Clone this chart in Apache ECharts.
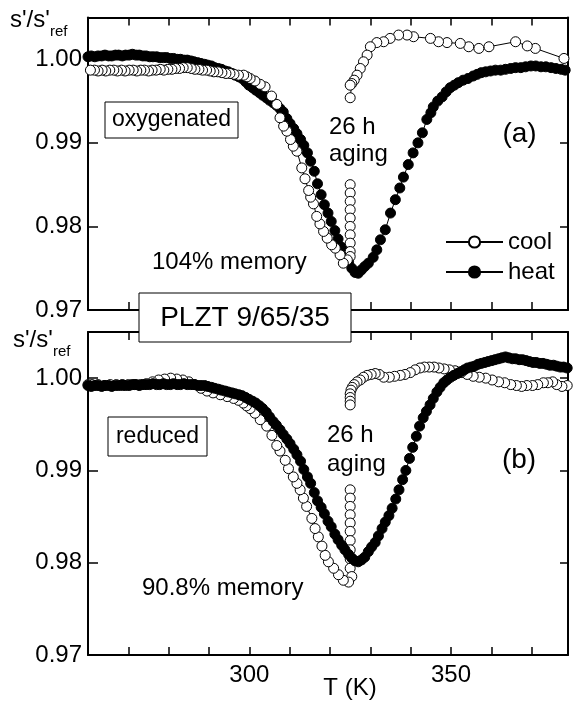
<!DOCTYPE html>
<html>
<head>
<meta charset="utf-8">
<script src="https://cdn.jsdelivr.net/npm/echarts@6/dist/echarts.min.js"></script>
<style>
html,body{margin:0;padding:0;background:#fff;}
#chart{width:573px;height:702px;}
</style>
</head>
<body>
<div id="chart"></div>
<script>
// ---- Data (null marks a gap in the measured sequence) ----
// Panel (a) oxygenated, cooling (measurement order: high T -> low T)
const aCoolT = [378.0,370.9,368.9,366.0,359.4,356.9,354.4,352.3,349.0,346.9,344.9,340.7,339.1,337.0,334.9,333.3,331.6,330.0,329.2,328.3,327.5,326.7,326.0,325.4,325.0,325.0,null,
  325.0,325.0,325.0,325.0,325.0,325.0,325.0,325.0,325.0,325.0,
  324.3,323.3,322.5,321.3,320.4,319.3,318.4,317.5,316.7,315.9,315.2,314.7,313.8,313.0,311.8,310.9,310.2,309.3,308.5,307.6,306.8,305.5,303.9,302.7,301.4,300.2,299.4,298.6,297.3,296.2,295.2,294.2,293.2,292.2,291.2,290.3,289.4,288.4,287.5,286.5,285.6,284.6,283.6,282.7,281.7,280.8,279.8,278.8,277.9,276.9,275.9,275.0,274.0,273.1,272.1,271.2,270.2,269.2,268.3,267.3,266.4,265.4,264.4,263.5,262.5,261.6,260.6];
const aCoolV = [1.0001,1.0013,1.0016,1.0021,1.0015,1.0013,1.0015,1.0019,1.0020,1.0021,1.0025,1.0027,1.0029,1.0029,1.0025,1.0021,1.0020,1.0015,1.0005,0.9997,0.9989,0.9981,0.9975,0.9971,0.9969,0.9954,null,
  0.9850,0.9840,0.9830,0.9820,0.9810,0.9800,0.9790,0.9780,0.9770,0.9764,
  0.9760,0.9756,0.9766,0.9774,0.9778,0.9786,0.9794,0.9803,0.9812,0.9827,0.9835,0.9843,0.9857,0.9870,0.9890,0.9896,0.9904,0.9914,0.9920,0.9930,0.9946,0.9956,0.9967,0.9970,0.9974,0.9977,0.9979,0.9981,0.9981,0.9982,0.9983,0.9983,0.9984,0.9985,0.9985,0.9986,0.9987,0.9987,0.9988,0.9988,0.9989,0.9990,0.9990,0.9989,0.9989,0.9988,0.9988,0.9987,0.9988,0.9987,0.9987,0.9986,0.9987,0.9987,0.9986,0.9987,0.9987,0.9986,0.9987,0.9986,0.9987,0.9987,0.9986,0.9987,0.9986,0.9987,0.9987];
// Panel (a) oxygenated, heating (low T -> high T)
const aHeatT = [260.0,260.8,261.7,262.5,263.4,264.2,265.1,265.9,266.8,267.6,268.5,269.3,270.2,271.0,271.9,272.7,273.6,274.4,275.3,276.1,277.0,277.8,278.7,279.5,280.4,281.2,282.1,282.9,283.8,284.6,285.5,286.3,287.2,288.0,288.9,289.7,290.6,291.4,292.3,293.1,294.0,294.8,295.7,296.5,297.4,298.2,299.1,299.9,300.8,301.6,302.5,303.3,304.2,305.0,305.9,306.7,307.6,308.4,309.3,310.1,311.0,311.8,312.7,313.5,314.4,315.2,316.1,316.9,317.8,318.6,319.5,320.3,321.2,322.0,322.9,323.7,324.6,325.4,326.2,327.0,327.8,328.6,329.5,330.7,331.6,332.5,333.7,335.0,336.2,337.3,338.2,339.4,340.6,341.8,342.9,344.0,345.0,345.6,346.7,347.8,348.8,349.8,350.8,351.8,353.0,354.2,355.5,356.5,357.5,358.6,359.8,361.0,362.3,363.5,364.8,366.0,367.3,368.5,369.8,371.0,372.3,373.5,374.8,376.0,377.3,378.3];
const aHeatV = [1.0003,1.0004,1.0003,1.0004,1.0004,1.0005,1.0004,1.0004,1.0005,1.0005,1.0004,1.0005,1.0005,1.0006,1.0005,1.0005,1.0004,1.0004,1.0003,1.0003,1.0003,1.0002,1.0002,1.0002,1.0001,1.0001,1.0000,1.0000,0.9999,0.9999,0.9998,0.9997,0.9996,0.9995,0.9994,0.9993,0.9992,0.9990,0.9989,0.9988,0.9986,0.9985,0.9983,0.9981,0.9979,0.9977,0.9973,0.9969,0.9966,0.9963,0.9960,0.9957,0.9954,0.9951,0.9948,0.9945,0.9941,0.9937,0.9929,0.9923,0.9917,0.9911,0.9904,0.9897,0.9888,0.9878,0.9866,0.9851,0.9838,0.9826,0.9816,0.9806,0.9795,0.9785,0.9775,0.9766,0.9758,0.9750,0.9745,0.9744,0.9748,0.9752,0.9756,0.9763,0.9772,0.9784,0.9796,0.9816,0.9832,0.9846,0.9859,0.9874,0.9888,0.9900,0.9912,0.9928,0.9936,0.9943,0.9950,0.9955,0.9961,0.9966,0.9969,0.9972,0.9975,0.9977,0.9980,0.9982,0.9984,0.9985,0.9986,0.9987,0.9987,0.9988,0.9989,0.9990,0.9990,0.9991,0.9992,0.9992,0.9991,0.9991,0.9990,0.9989,0.9988,0.9987];
// Panel (b) reduced, cooling (high T -> low T)
const bCoolT = [378.8,377.5,376.2,375.2,374.0,372.9,371.5,370.2,368.8,367.5,366.2,364.8,363.3,361.8,360.2,358.6,357.0,355.5,354.0,352.5,351.0,349.6,348.3,347.0,345.8,344.6,343.4,342.3,341.1,339.9,338.6,337.4,336.0,334.7,333.3,332.2,331.2,330.2,329.2,328.3,327.5,326.7,326.0,325.5,325.2,325.0,325.0,325.0,325.0,null,
  325.0,325.0,325.0,325.0,325.0,325.0,325.0,325.0,325.0,325.0,325.4,
  324.6,323.3,322.1,320.9,319.6,318.8,318.0,317.1,316.3,315.5,314.2,313.4,312.6,311.8,310.9,309.7,308.9,307.6,306.8,305.6,304.3,302.7,301.4,300.2,299.3,298.5,297.3,296.1,294.5,292.8,291.0,289.5,288.0,286.5,285.0,283.5,282.0,280.5,279.0,277.5,276.0,274.5,273.0,271.5,270.0,268.5,267.0,265.5,264.0,262.5,261.0,260.0];
const bCoolV = [0.9992,0.9991,0.9993,0.9996,0.9995,0.9995,0.9993,0.9992,0.9992,0.9991,0.9992,0.9993,0.9995,0.9996,0.9998,1.0000,1.0001,1.0002,1.0004,1.0006,1.0008,1.0009,1.0010,1.0011,1.0012,1.0012,1.0012,1.0011,1.0009,1.0006,1.0004,1.0003,1.0002,1.0001,1.0001,1.0004,1.0005,1.0004,1.0003,1.0001,0.9998,0.9996,0.9993,0.9990,0.9987,0.9983,0.9979,0.9975,0.9971,null,
  0.9879,0.9870,0.9861,0.9852,0.9843,0.9834,0.9824,0.9814,0.9804,0.9794,0.9785,
  0.9779,0.9781,0.9787,0.9794,0.9801,0.9808,0.9818,0.9828,0.9837,0.9848,0.9861,0.9870,0.9879,0.9886,0.9893,0.9902,0.9911,0.9921,0.9927,0.9938,0.9948,0.9955,0.9962,0.9967,0.9970,0.9973,0.9976,0.9978,0.9980,0.9982,0.9984,0.9986,0.9989,0.9993,0.9996,0.9998,0.9999,1.0000,0.9999,0.9998,0.9996,0.9994,0.9993,0.9993,0.9993,0.9992,0.9993,0.9993,0.9992,0.9993,0.9993,0.9993];
// Panel (b) reduced, heating (low T -> high T)
const bHeatT = [260.0,260.8,261.7,262.5,263.4,264.2,265.1,265.9,266.8,267.6,268.5,269.3,270.2,271.0,271.9,272.7,273.6,274.4,275.3,276.1,277.0,277.8,278.7,279.5,280.4,281.2,282.1,282.9,283.8,284.6,285.5,286.3,287.2,288.0,288.9,289.7,290.6,291.4,292.3,293.1,294.0,294.8,295.7,296.5,297.4,298.2,299.1,299.9,300.8,301.6,302.5,303.3,304.2,305.0,305.9,306.7,307.6,308.4,309.3,310.1,311.0,311.8,312.7,313.5,314.4,315.2,316.1,316.9,317.8,318.6,319.5,320.3,321.2,322.0,322.9,323.7,324.6,325.4,326.2,327.0,327.8,328.6,329.5,330.3,331.2,332.0,332.9,333.7,334.6,335.4,336.3,337.1,338.0,338.8,339.7,340.5,341.4,342.2,343.1,343.9,344.8,345.6,346.5,347.3,348.2,349.0,349.9,350.7,351.6,352.4,353.3,354.1,355.0,355.8,356.7,357.5,358.4,359.2,360.1,360.9,361.8,362.6,363.5,364.3,365.2,366.0,366.9,367.7,368.6,369.4,370.3,371.1,372.0,372.8,373.7,374.5,375.4,376.2,377.1,377.9,378.8];
const bHeatV = [0.9992,0.9991,0.9992,0.9992,0.9991,0.9992,0.9992,0.9991,0.9992,0.9992,0.9993,0.9992,0.9992,0.9993,0.9993,0.9992,0.9993,0.9993,0.9993,0.9994,0.9993,0.9993,0.9994,0.9993,0.9993,0.9994,0.9993,0.9993,0.9994,0.9993,0.9993,0.9993,0.9992,0.9992,0.9992,0.9991,0.9990,0.9989,0.9988,0.9987,0.9986,0.9985,0.9984,0.9983,0.9982,0.9981,0.9979,0.9977,0.9975,0.9973,0.9970,0.9967,0.9963,0.9958,0.9953,0.9949,0.9944,0.9939,0.9934,0.9929,0.9923,0.9917,0.9910,0.9901,0.9893,0.9886,0.9876,0.9867,0.9860,0.9853,0.9845,0.9839,0.9831,0.9825,0.9819,0.9814,0.9809,0.9805,0.9802,0.9801,0.9803,0.9806,0.9812,0.9817,0.9822,0.9829,0.9837,0.9844,0.9851,0.9859,0.9869,0.9879,0.9890,0.9900,0.9913,0.9925,0.9937,0.9948,0.9957,0.9964,0.9971,0.9978,0.9985,0.9990,0.9995,0.9998,1.0001,1.0003,1.0005,1.0007,1.0009,1.0011,1.0012,1.0013,1.0015,1.0016,1.0017,1.0018,1.0019,1.0020,1.0021,1.0022,1.0023,1.0022,1.0021,1.0021,1.0020,1.0020,1.0019,1.0018,1.0017,1.0017,1.0016,1.0016,1.0015,1.0014,1.0014,1.0013,1.0012,1.0012,1.0011];

// Axis settings
const xMin = 260, xMax = 379, xStep = 10;
const xLabelValues = [300, 350];
const yMin = 0.97, yMax = 1.005, yStep = 0.01;

// ---- Build ----
const FONT = "'Liberation Sans', Arial, Helvetica, sans-serif";
function pairs(T, V) {
  return T.map((t, i) => (t === null || V[i] === null) ? ['-', '-'] : [t, V[i]]);
}
const chart = echarts.init(document.getElementById('chart'), null, {renderer: 'canvas'});

function xAxes(gi, showLabels) {
  const base = {
    gridIndex: gi, type: 'value', min: xMin, max: xMax, interval: xStep,
    splitLine: {show: false},
    axisLine: {onZero: false, lineStyle: {color: '#000', width: 2}},
    axisTick: {inside: true, length: 8, lineStyle: {color: '#000', width: 1.5}}
  };
  return [
    Object.assign({}, base, {position: 'bottom',
      axisLabel: {show: showLabels, color: '#000', fontSize: 24, fontFamily: FONT, margin: 8,
        formatter: v => xLabelValues.indexOf(v) >= 0 ? String(v) : ''}}),
    Object.assign({}, base, {position: 'top', axisLabel: {show: false}})
  ];
}
function yAxes(gi) {
  const base = {
    gridIndex: gi, type: 'value', min: yMin, max: yMax, interval: yStep,
    splitLine: {show: false},
    axisLine: {onZero: false, lineStyle: {color: '#000', width: 2}}
  };
  return [
    Object.assign({}, base, {position: 'left',
      axisTick: {inside: true, length: 10, lineStyle: {color: '#000', width: 1.5}},
      axisLabel: {color: '#000', fontSize: 24, fontFamily: FONT, margin: 6,
        formatter: v => { const r = Math.round(v * 100); return Math.abs(v * 100 - r) < 1e-6 ? (r / 100).toFixed(2) : ''; }}}),
    Object.assign({}, base, {position: 'right',
      axisTick: {inside: true, length: 8, lineStyle: {color: '#000', width: 1.5}},
      axisLabel: {show: false}})
  ];
}

const coolStyle = {
  type: 'line', symbol: 'circle', symbolSize: 10, showAllSymbol: true,
  lineStyle: {color: '#000', width: 1},
  itemStyle: {color: '#fff', borderColor: '#000', borderWidth: 1},
  emphasis: {disabled: true}, connectNulls: false
};
const heatStyle = {
  type: 'line', symbol: 'circle', symbolSize: 10, showAllSymbol: true,
  lineStyle: {color: '#000', width: 1},
  itemStyle: {color: '#000', borderColor: '#000', borderWidth: 1},
  emphasis: {disabled: true}, connectNulls: false
};

function txt(x, y, text, size, align, extra) {
  return Object.assign({type: 'text', x: x, y: y, z: 100,
    style: {text: text, font: size + 'px ' + FONT, fill: '#000', textAlign: align || 'left', textVerticalAlign: 'middle'}}, extra || {});
}
function box(x, y, w, h) {
  return {type: 'rect', z: 99, shape: {x: x, y: y, width: w, height: h},
    style: {fill: '#fff', stroke: '#000', lineWidth: 1}};
}

const option = {
  animation: false,
  backgroundColor: '#fff',
  grid: [
    {left: 88, top: 17.5, width: 480, height: 292.5},
    {left: 88, top: 332, width: 480, height: 323}
  ],
  xAxis: [].concat(xAxes(0, false), xAxes(1, true)),
  yAxis: [].concat(yAxes(0), yAxes(1)),
  legend: {
    orient: 'vertical', left: 440, top: 225,
    itemWidth: 57, itemHeight: 14, itemGap: 6,
    textStyle: {color: '#000', fontSize: 24, fontFamily: FONT, padding: [0, 0, 0, 0]},
    data: ['cool', 'heat'], selectedMode: false
  },
  series: [
    Object.assign({}, heatStyle, {name: 'heat', xAxisIndex: 0, yAxisIndex: 0, data: pairs(aHeatT, aHeatV)}),
    Object.assign({}, coolStyle, {name: 'cool', xAxisIndex: 0, yAxisIndex: 0, data: pairs(aCoolT, aCoolV)}),
    Object.assign({}, coolStyle, {name: 'cool', xAxisIndex: 2, yAxisIndex: 2, data: pairs(bCoolT, bCoolV)}),
    Object.assign({}, heatStyle, {name: 'heat', xAxisIndex: 2, yAxisIndex: 2, data: pairs(bHeatT, bHeatV)})
  ],
  graphic: [
    // y-axis titles
    txt(10, 20, "s'/s'", 24), txt(50, 32, 'ref', 15),
    txt(13, 340, "s'/s'", 24), txt(53, 352, 'ref', 15),
    // panel annotations
    box(105, 102, 133, 36), txt(171.5, 120, 'oxygenated', 23, 'center'),
    box(108, 417, 99, 39), txt(157.5, 437, 'reduced', 23, 'center'),
    box(139, 293, 212, 49), txt(245, 318, 'PLZT 9/65/35', 28, 'center'),
    txt(519.5, 134, '(a)', 28, 'center'),
    txt(519, 460, '(b)', 28, 'center'),
    txt(329, 127, '26 h', 24), txt(329, 154, 'aging', 24),
    txt(327, 435, '26 h', 24), txt(327, 464, 'aging', 24),
    txt(152, 262, '104% memory', 24),
    txt(142, 588, '90.8% memory', 24),
    txt(350, 688, 'T (K)', 24, 'center')
  ]
};
chart.setOption(option);
</script>
</body>
</html>
